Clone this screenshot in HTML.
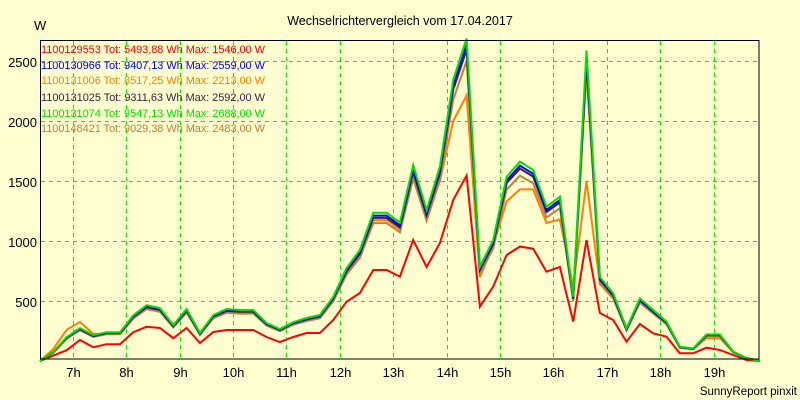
<!DOCTYPE html>
<html><head><meta charset="utf-8"><style>
html,body{margin:0;padding:0;background:#ffffd0;}
svg{display:block;font-family:"Liberation Sans",sans-serif;}
</style></head><body>
<svg id="c" width="800" height="400" xmlns="http://www.w3.org/2000/svg">
<rect width="800" height="400" fill="#ffffd0"/>
<text x="400" y="25" font-size="12.5" text-anchor="middle" fill="#000">Wechselrichtervergleich vom 17.04.2017</text>
<text x="34" y="30" font-size="13" fill="#000">W</text>
<g id="grid" stroke="#00f000" stroke-width="1" stroke-dasharray="4,4"></g>
<g font-size="13" fill="#000" text-anchor="end">
<text x="37" y="67">2500</text><text x="37" y="127">2000</text><text x="37" y="187">1500</text><text x="37" y="247">1000</text><text x="37" y="307">500</text>
</g>
<g id="xl" font-size="13" fill="#000" text-anchor="middle"></g>
<g id="series" fill="none" stroke-width="2" stroke-linejoin="miter"></g>
<rect x="40.5" y="40.5" width="718.5" height="318.5" fill="none" stroke="#000" stroke-width="1"/>
<g font-size="11" textLength="224">
<text x="41" y="53" fill="#ff0000" textLength="224">1100129553 Tot: 5493,88 Wh Max: 1546,00 W</text>
<text x="41" y="69" fill="#0000ff" textLength="224">1100130966 Tot: 9407,13 Wh Max: 2559,00 W</text>
<text x="41" y="84" fill="#ff8000" textLength="224">1100131006 Tot: 8517,25 Wh Max: 2213,00 W</text>
<text x="41" y="101" fill="#402040" textLength="224">1100131025 Tot: 9311,63 Wh Max: 2592,00 W</text>
<text x="41" y="117" fill="#00e000" textLength="224">1100131074 Tot: 9547,13 Wh Max: 2688,00 W</text>
<text x="41" y="132" fill="#c08040" textLength="224">1100148421 Tot: 9029,38 Wh Max: 2483,00 W</text>
</g>
<text x="797" y="395" font-size="11.5" text-anchor="end" fill="#000">SunnyReport pinxit</text>
</svg>
<script>
var NS="http://www.w3.org/2000/svg";
function el(p,t,a,txt){var e=document.createElementNS(NS,t);for(var k in a)e.setAttribute(k,a[k]);if(txt)e.textContent=txt;p.appendChild(e);return e;}
var g=document.getElementById('grid');
[61,121,181,241,301].forEach(function(y){el(g,'line',{x1:41,x2:759,y1:y+.5,y2:y+.5});});
var xl=document.getElementById('xl');
for(var h=7;h<=19;h++){var x=Math.round(72.7+(h-7)*53.4)+.5;el(g,'line',{x1:x,x2:x,y1:41,y2:359});el(xl,'text',{x:x,y:377},h+'h');}
var G=[0,75,200,275,215,240,240,380,465,440,300,433,233,383,433,425,425,317,267,325,358,383,536,775,925,1236,1236,1153,1633,1258,1619,2342,2688,786,1008,1536,1661,1592,1286,1369,536,2588,700,564,272,522,425,328,119,105,222,222,78,25,0];
var R=[0,45,90,175,115,140,140,240,285,275,190,275,150,242,258,258,258,200,158,200,233,233,342,494,567,758,758,703,1008,783,983,1342,1546,453,619,883,953,936,744,783,328,1008,400,342,161,308,231,203,64,64,111,92,50,8,0];
var O=G.map(function(v){return v*0.95;});
O[1]=100;O[2]=260;O[3]=325;O[4]=225;O[28]=1580;O[29]=1200;O[30]=1500;O[31]=2000;O[32]=2213;O[33]=700;O[34]=960;O[35]=1330;O[36]=1430;O[37]=1430;O[38]=1150;O[39]=1180;O[40]=620;O[41]=1500;O[42]=640;O[43]=520;O[48]=110;O[49]=100;O[50]=190;O[51]=190;
function path(arr,f,col){var d='';arr.forEach(function(v,k){var x=40+13.33*k,y=361-0.12*v*f;d+=(k?'L':'M')+x.toFixed(1)+' '+y.toFixed(1);});el(document.getElementById('series'),'path',{d:d,stroke:col});}
path(R,1,'#ff0000');
path(O,1,'#ff8000');
path(G,0.93,'#c08040');
path(G,0.965,'#402040');
path(G,0.98,'#0000ff');
path(G,1,'#00e000');
</script>
</body></html>
